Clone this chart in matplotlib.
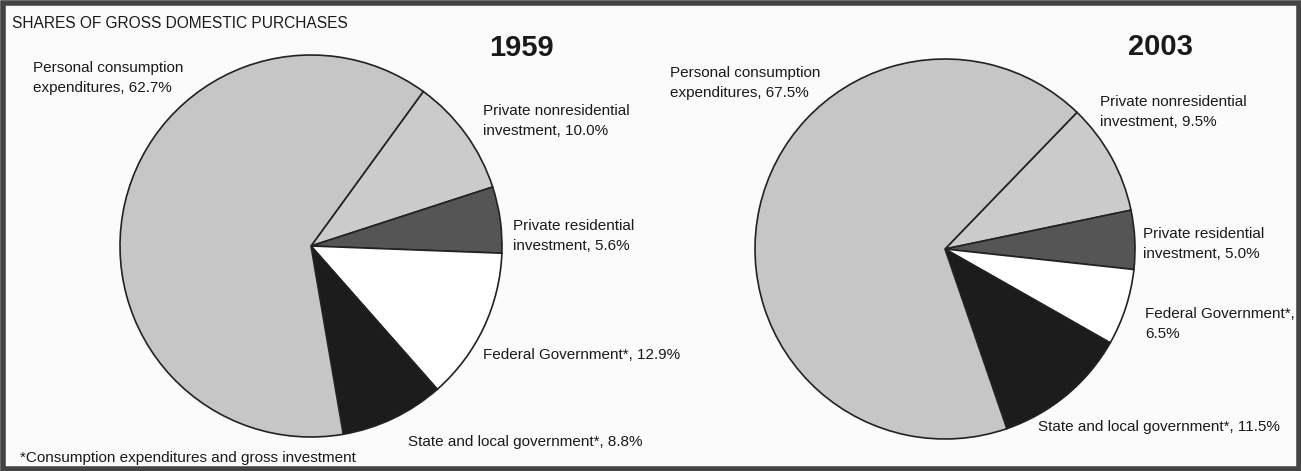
import matplotlib.pyplot as plt
from matplotlib.patches import Rectangle

## datos de las dos tortas (orden en sentido horario desde la linea superior derecha)
categorias = ["Private nonresidential investment", "Private residential investment",
              "Federal Government*", "State and local government*",
              "Personal consumption expenditures"]
valores_1959 = [10.0, 5.6, 12.9, 8.8, 62.7]
valores_2003 = [9.5, 5.0, 6.5, 11.5, 67.5]
colores = ["#cbcbcb", "#555555", "#ffffff", "#1c1c1c", "#c6c6c6"]

plt.rcParams['font.family'] = ['Liberation Sans', 'DejaVu Sans']

W, H = 1301, 471
fig = plt.figure(figsize=(W / 100, H / 100), dpi=100)
fig.patch.set_facecolor("#fbfbfb")
ax = fig.add_axes([0, 0, 1, 1])

def py(y):
    # pixel desde arriba -> coordenada de datos
    return H - y

cuña = dict(edgecolor="#222222", linewidth=1.2)
ax.pie(valores_1959, colors=colores, startangle=54, counterclock=False,
       center=(311, py(246)), radius=191, wedgeprops=cuña)
ax.pie(valores_2003, colors=colores, startangle=46, counterclock=False,
       center=(945, py(249)), radius=190, wedgeprops=cuña)

ax.set_xlim(0, W)
ax.set_ylim(0, H)
ax.set_aspect('equal')
ax.axis('off')

fs = 11
txt = dict(fontsize=fs, color="#1a1a1a", va="center", ha="left", linespacing=1.5)

ax.text(12, py(23), "SHARES OF GROSS DOMESTIC PURCHASES", fontsize=11.2,
        color="#1a1a1a", va="center", ha="left")
ax.text(521, py(48), "1959", fontsize=21, fontweight="bold", ha="center", va="center", color="#1a1a1a")
ax.text(1160, py(47), "2003", fontsize=21, fontweight="bold", ha="center", va="center", color="#1a1a1a")

# etiquetas 1959
ax.text(33, py(78), "Personal consumption\nexpenditures, %.1f%%" % valores_1959[4], **txt)
ax.text(483, py(121), "Private nonresidential\ninvestment, %.1f%%" % valores_1959[0], **txt)
ax.text(513, py(236), "Private residential\ninvestment, %.1f%%" % valores_1959[1], **txt)
ax.text(483, py(355), "Federal Government*, %.1f%%" % valores_1959[2], **txt)
ax.text(408, py(442), "State and local government*, %.1f%%" % valores_1959[3], **txt)
ax.text(20, py(458), "*Consumption expenditures and gross investment", **txt)

# etiquetas 2003
ax.text(670, py(83), "Personal consumption\nexpenditures, %.1f%%" % valores_2003[4], **txt)
ax.text(1100, py(112), "Private nonresidential\ninvestment, %.1f%%" % valores_2003[0], **txt)
ax.text(1143, py(244), "Private residential\ninvestment, %.1f%%" % valores_2003[1], **txt)
ax.text(1145, py(324), "Federal Government*,\n%.1f%%" % valores_2003[2], **txt)
ax.text(1038, py(427), "State and local government*, %.1f%%" % valores_2003[3], **txt)

# marco
fig.patches.append(Rectangle((2.5 / W, 2 / H), (W - 5) / W, (H - 5) / H,
                             transform=fig.transFigure, fill=False,
                             edgecolor="#444444", linewidth=4))

fig.savefig("out.png", dpi=100, facecolor=fig.get_facecolor())
